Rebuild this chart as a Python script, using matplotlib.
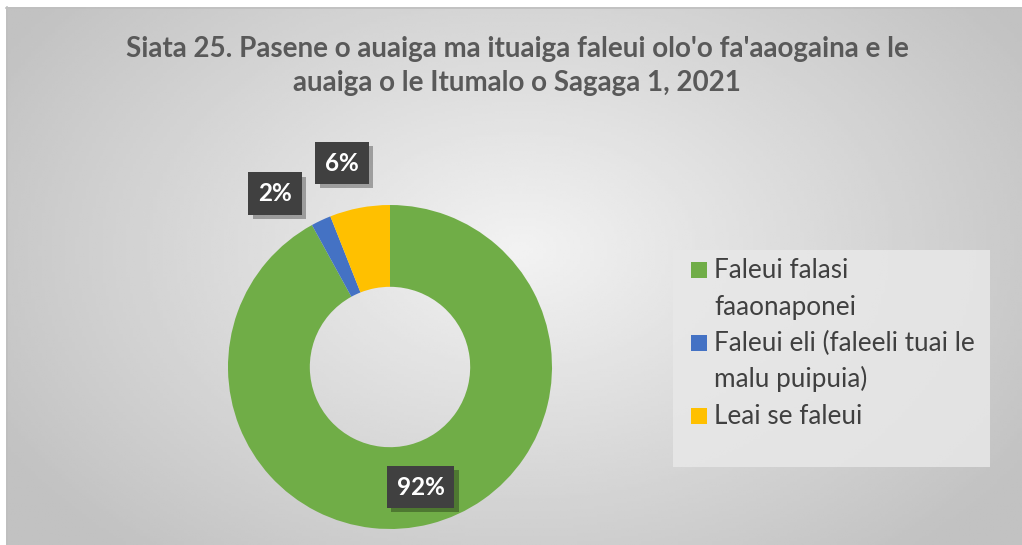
import numpy as np
import matplotlib.pyplot as plt
import matplotlib.patheffects as pe
from matplotlib.patches import Rectangle

title = "Siata 25. Pasene o auaiga ma ituaiga faleui olo'o fa'aaogaina e le\nauaiga o le Itumalo o Sagaga 1, 2021"
labels = ["Faleui falasi\nfaaonaponei", "Faleui eli (faleeli tuai le\nmalu puipuia)", "Leai se faleui"]
values = [92, 2, 6]
colors = ["#70AD47", "#4472C4", "#FFC000"]

W, H = 1022, 545
fig = plt.figure(figsize=(W / 100, H / 100), dpi=100)
fig.patch.set_facecolor("white")

# background: chart area with radial gradient (pixel coordinates)
bg = fig.add_axes([0, 0, 1, 1])
bg.set_xlim(0, W)
bg.set_ylim(H, 0)
bg.axis("off")
x0, y0, x1, y1 = 6, 7, 1022, 545
xx, yy = np.meshgrid(np.linspace(x0, x1, 300), np.linspace(y0, y1, 200))
r = np.sqrt(((xx - 520) / 600) ** 2 + ((yy - 250) / 400) ** 2)
r = np.clip(r, 0, 1)
light, dark = 0.95, 0.76
img = light + (dark - light) * r
bg.imshow(img, cmap="gray", vmin=0, vmax=1, extent=(x0, x1, y1, y0), aspect="auto", zorder=0)
bg.plot([x0, x1], [y0 + 0.5, y0 + 0.5], color="#bfbfbf", lw=1.2, zorder=1)
bg.plot([x0 + 0.5, x0 + 0.5], [y0, y1], color="#bfbfbf", lw=1.2, zorder=1)

fig.text(517 / W, 1 - 66 / H, title, ha="center", va="center", fontsize=20, fontweight="bold",
         color="#595959", family=["Lato", "DejaVu Sans"], linespacing=1.35)

# donut
cx, cy, R = 390, 367, 162
ax = fig.add_axes([(cx - R) / W, (H - cy - R) / H, 2 * R / W, 2 * R / H])
wedges, _ = ax.pie(values, colors=colors, startangle=90, counterclock=False, radius=1,
                   wedgeprops=dict(width=0.505, edgecolor="none"))
ax.set_xlim(-1, 1)
ax.set_ylim(-1, 1)
ax.axis("off")

label_pos = [(0.19, -0.741), (-0.71, 1.07), (-0.296, 1.259)]
for v, (lx, ly) in zip(values, label_pos):
    t = ax.text(lx, ly, f"{v}%", ha="center", va="center", fontsize=17.5, fontweight="bold",
                color="white", family=["Lato", "DejaVu Sans"], clip_on=False, zorder=5,
                bbox=dict(boxstyle="square,pad=0.4", facecolor="#404040", edgecolor="none"))
    t.get_bbox_patch().set_path_effects([pe.SimplePatchShadow(offset=(3, -3), shadow_rgbFace="black", alpha=0.3),
                                         pe.Normal()])

# legend, drawn by hand so the wrapped lines keep Excel's spacing
bg.add_patch(Rectangle((673, 250), 317, 217, facecolor="#e8e8e8", edgecolor="none", alpha=0.85, zorder=1))
line_h = 36.5
baseline = 278
for lab, c in zip(labels, colors):
    bg.add_patch(Rectangle((691, baseline - 16), 16, 16, facecolor=c, edgecolor="none", zorder=2))
    for line in lab.split("\n"):
        bg.text(714, baseline, line, ha="left", va="baseline", fontsize=18.8, color="#404040",
                family=["Lato", "DejaVu Sans"], zorder=2)
        baseline += line_h

fig.savefig("out.png", dpi=100)
